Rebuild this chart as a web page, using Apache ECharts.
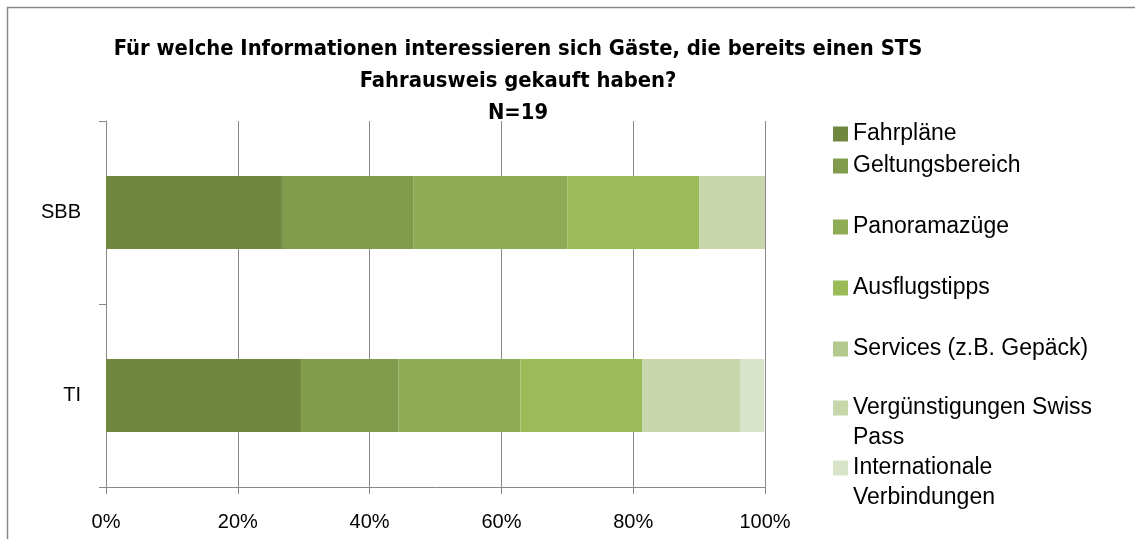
<!DOCTYPE html>
<html>
<head>
<meta charset="utf-8">
<script src="https://cdn.jsdelivr.net/npm/echarts@6/dist/echarts.min.js"></script>
<style>
  html, body { margin: 0; padding: 0; background: #fff; }
  #chart { width: 1135px; height: 539px; }
</style>
</head>
<body>
<div id="chart"></div>
<script>
// categories (top to bottom) and answer groups
const categories = ['SBB', 'TI']
const seriesNames = [
  'Fahrpläne',
  'Geltungsbereich',
  'Panoramazüge',
  'Ausflugstipps',
  'Services (z.B. Gepäck)',
  'Vergünstigungen Swiss Pass',
  'Internationale Verbindungen'
]
// share in percent, one list per group: [SBB, TI]
const fahrplaene = [26.7, 29.6]
const geltungsbereich = [20.0, 14.8]
const panoramazuege = [23.3, 18.5]
const ausflugstipps = [20.0, 18.5]
const services = [0, 0]
const verguenstigungen = [10.0, 14.8]
const international = [0, 3.7]
const xTicks = [0, 20, 40, 60, 80, 100]

const seriesValues = [fahrplaene, geltungsbereich, panoramazuege, ausflugstipps, services, verguenstigungen, international]
const colors = ['#6f873f', '#809b4b', '#8eac54', '#9bbb59', '#b4c98d', '#c7d6ab', '#d8e3c7']

const titleFont = '"DejaVu Sans Condensed", "Liberation Sans", sans-serif'
const font = '"Liberation Sans", sans-serif'
const grey = '#878787'

const chart = echarts.init(document.getElementById('chart'))

const legendBase = {
  orient: 'vertical',
  left: 833,
  padding: 0,
  itemWidth: 15,
  itemHeight: 15,
  itemGap: 31,
  icon: 'rect',
  selectedMode: false,
  textStyle: { fontFamily: font, fontSize: 23, color: '#000', lineHeight: 30 }
}

const option = {
  color: colors,
  animation: false,
  title: {
    text: 'Für welche Informationen interessieren sich Gäste, die bereits einen STS\nFahrausweis gekauft haben?\nN=19',
    left: 513,
    top: 28,
    textAlign: 'center',
    textStyle: { fontFamily: titleFont, fontWeight: 'bold', fontSize: 21.8, lineHeight: 32, color: '#000' }
  },
  legend: [
    Object.assign({}, legendBase, { top: 119, data: [seriesNames[0]] }),
    Object.assign({}, legendBase, { top: 151, data: seriesNames.slice(1, 5) }),
    // leading blank line keeps the square level with the first text line
    Object.assign({}, legendBase, {
      top: 363,
      data: [seriesNames[5]],
      formatter: () => ' \nVergünstigungen Swiss\nPass'
    }),
    Object.assign({}, legendBase, {
      top: 423,
      data: [seriesNames[6]],
      formatter: () => ' \nInternationale\nVerbindungen'
    })
  ],
  grid: { left: 106, right: 370, top: 121, bottom: 52, containLabel: false },
  xAxis: {
    type: 'value',
    min: 0,
    max: 100,
    interval: 20,
    axisLine: { show: true, lineStyle: { color: grey } },
    axisTick: { show: true, length: 7, lineStyle: { color: grey } },
    splitLine: { show: true, lineStyle: { color: grey, width: 1 } },
    axisLabel: {
      margin: 25,
      fontFamily: font,
      fontSize: 20,
      color: '#000',
      formatter: (v) => xTicks.includes(v) ? v + '%' : ''
    }
  },
  yAxis: {
    type: 'category',
    data: categories,
    inverse: true,
    axisLine: { show: true, lineStyle: { color: grey } },
    axisTick: { show: true, length: 7, lineStyle: { color: grey } },
    axisLabel: { margin: 25, fontFamily: font, fontSize: 20, color: '#000' }
  },
  graphic: [
    {
      type: 'polyline',
      silent: true,
      shape: { points: [[7.5, 545], [7.5, 7.5], [1140, 7.5]] },
      style: { stroke: grey, lineWidth: 1.5, fill: null }
    }
  ],
  series: seriesNames.map((name, i) => ({
    name: name,
    type: 'bar',
    stack: 'total',
    barCategoryGap: '60%',
    data: seriesValues[i]
  }))
}

chart.setOption(option)
</script>
</body>
</html>
